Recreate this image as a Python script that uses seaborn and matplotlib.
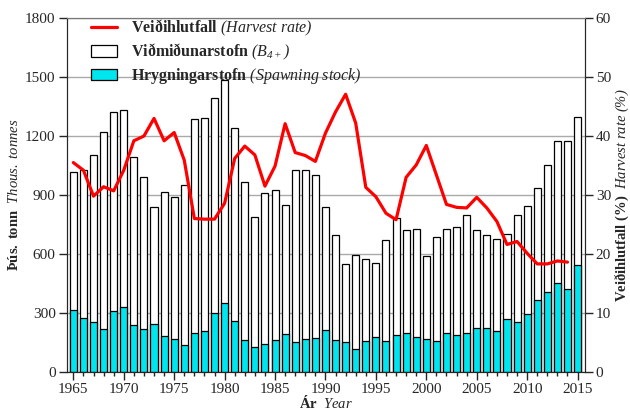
import numpy as np
import pandas as pd
import matplotlib
matplotlib.use("Agg")
import matplotlib.pyplot as plt
from matplotlib.ticker import MultipleLocator
from matplotlib.patches import Patch
from matplotlib.lines import Line2D
import seaborn as sns

years = list(range(1965, 2016))

# Viðmiðunarstofn (B4+), thous. tonnes
ref_stock = [1019, 1029, 1102, 1219, 1321, 1335, 1095, 993, 840, 915,
             891, 953, 1287, 1294, 1392, 1486, 1240, 968, 788, 912,
             924, 851, 1027, 1029, 1000, 839, 696, 548, 593, 576,
             555, 671, 781, 720, 728, 588, 686, 725, 737, 796,
             720, 696, 678, 701, 796, 842, 934, 1054, 1173, 1177,
             1299]

# Hrygningarstofn (spawning stock), thous. tonnes
spawn_stock = [314, 275, 253, 219, 311, 328, 239, 219, 243, 183,
               165, 134, 197, 209, 301, 351, 260, 163, 127, 139,
               160, 194, 149, 165, 170, 211, 161, 149, 117, 155,
               175, 156, 187, 199, 175, 165, 158, 195, 187, 199,
               224, 221, 205, 267, 253, 292, 365, 407, 450, 421,
               543]

# Veiðihlutfall (harvest rate, %), 1965-2014
rate_years = list(range(1965, 2015))
harvest_rate = [35.5, 34.2, 29.8, 31.4, 30.7, 34.2, 39.2, 40.0, 43.0, 39.2,
                40.6, 35.9, 26.0, 25.9, 25.9, 28.6, 36.2, 38.3, 36.8, 31.5,
                34.9, 42.1, 37.2, 36.7, 35.7, 40.5, 44.1, 47.1, 42.2, 31.3,
                29.7, 26.9, 25.8, 33.0, 35.1, 38.4, 33.4, 28.4, 27.9, 27.8,
                29.6, 27.8, 25.5, 21.6, 22.1, 20.1, 18.3, 18.3, 18.8, 18.6]

sns.set_style("ticks")
plt.rcParams["font.family"] = ["Liberation Serif", "DejaVu Serif"]
# mathtext used only for labels: plain parts italic, \mathbf parts bold
plt.rcParams["mathtext.fontset"] = "custom"
plt.rcParams["mathtext.rm"] = "Liberation Serif:italic"
plt.rcParams["mathtext.it"] = "Liberation Serif:italic"
plt.rcParams["mathtext.bf"] = "Liberation Serif:bold"

cyan = "#00E5EE"

fig = plt.figure(figsize=(6.3, 4.11), dpi=100)
ax = fig.add_axes([0.106, 0.0956, 0.822, 0.86])

sns.barplot(x=years, y=ref_stock, native_scale=True, color="white",
            edgecolor="black", linewidth=0.9, width=0.7, saturation=1, ax=ax)
sns.barplot(x=years, y=spawn_stock, native_scale=True, color=cyan,
            edgecolor="black", linewidth=0.9, width=0.7, saturation=1, ax=ax)

ax.set_xlim(1964.35, 2015.7)
ax.set_ylim(0, 1800)
ax.yaxis.set_major_locator(MultipleLocator(300))
ax.xaxis.set_major_locator(MultipleLocator(5))
ax.xaxis.set_minor_locator(MultipleLocator(1))
ax.grid(axis="y", color="#aaaaaa", linewidth=1)
ax.set_axisbelow(True)
ax.tick_params(axis="both", which="major", labelsize=11, length=6, width=1,
               direction="out", pad=2)
ax.tick_params(axis="x", which="minor", length=3, width=1, direction="out")
ax.spines["top"].set_color("#777777")
ax.set_xlabel(r"$\mathbf{Ár}$  $Year$", fontsize=10.5, labelpad=-1)
ax.set_ylabel(r"$\mathbf{Þús.\ tonn}$  $Thous.\ tonnes$", fontsize=10.5, labelpad=3)

ax2 = ax.twinx()
sns.lineplot(x=rate_years, y=harvest_rate, color="red", linewidth=2.3, ax=ax2)
ax2.set_ylim(0, 60)
ax2.yaxis.set_major_locator(MultipleLocator(10))
ax2.tick_params(axis="y", labelsize=11, length=6, width=1, direction="out", pad=2)
ax2.spines["top"].set_color("#777777")
ax2.set_ylabel(r"$\mathbf{Veiðihlutfall\ (\%)}$  $Harvest\ rate\ (\%)$",
               fontsize=10.5, labelpad=1)

handles = [
    Line2D([], [], color="red", linewidth=2.3),
    Patch(facecolor="white", edgecolor="black", linewidth=0.9),
    Patch(facecolor=cyan, edgecolor="black", linewidth=0.9),
]
labels = [
    r"$\mathbf{Veiðihlutfall}$ $(Harvest\ rate)$",
    r"$\mathbf{Viðmiðunarstofn}$ $(B_{4+})$",
    r"$\mathbf{Hrygningarstofn}$ $(Spawning\ stock)$",
]
ax2.legend(handles, labels, loc="upper left", bbox_to_anchor=(0.035, 1.018),
           frameon=False, fontsize=11.5, handlelength=1.6, labelspacing=0.22,
           handletextpad=0.9, borderaxespad=0)

fig.savefig("out.png", dpi=100)
